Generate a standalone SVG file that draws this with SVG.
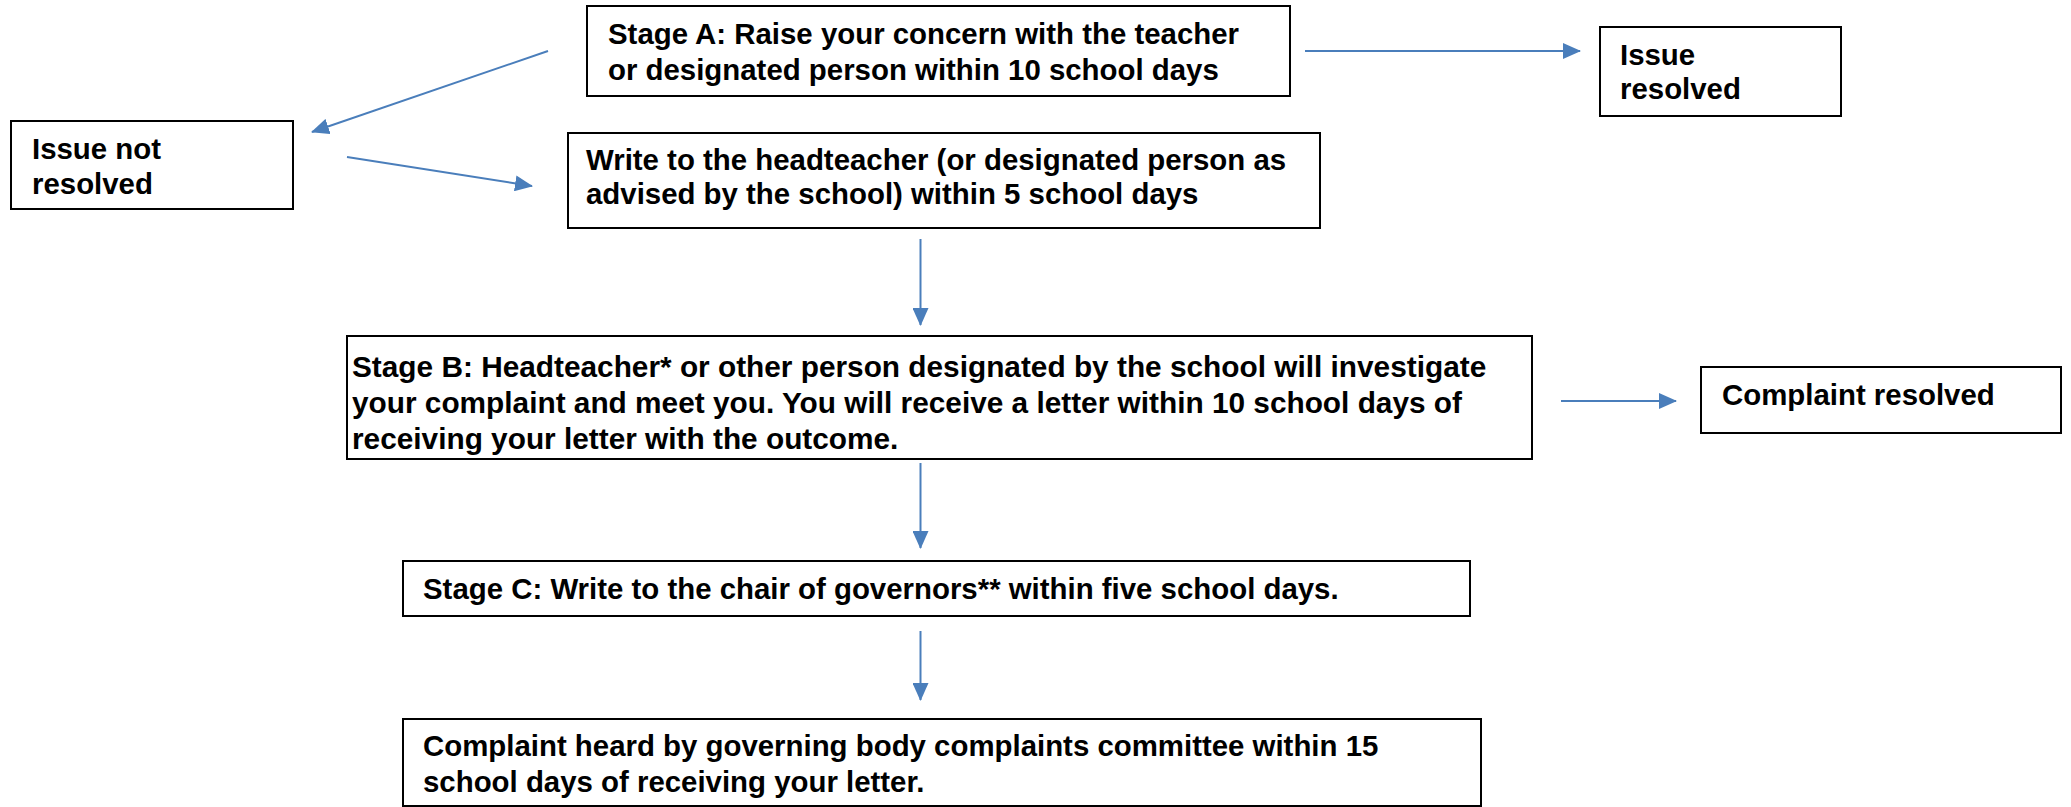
<svg xmlns="http://www.w3.org/2000/svg" width="2071" height="807" viewBox="0 0 2071 807">
<style>
.box{fill:#fff;stroke:#000;stroke-width:2}
.t{font-family:"Liberation Sans",Arial,sans-serif;font-weight:bold;font-size:29.4px;fill:#000}
.tb{font-size:29.8px}
.c{stroke:#4a7ebb;stroke-width:2;fill:none;marker-end:url(#ah)}
</style>
<defs>
<marker id="ah" markerWidth="9" markerHeight="8" refX="8.5" refY="4" orient="auto" markerUnits="strokeWidth">
<path d="M0,0 L9,4 L0,8 Z" fill="#4a7ebb"/>
</marker>
</defs>
<rect width="2071" height="807" fill="#fff"/>
<g id="connectors">
<line class="c" x1="1305" y1="51" x2="1580" y2="51"/>
<line class="c" x1="548" y1="51" x2="312" y2="132"/>
<line class="c" x1="347" y1="157" x2="532" y2="186"/>
<line class="c" x1="920.5" y1="239" x2="920.5" y2="325"/>
<line class="c" x1="1561" y1="401" x2="1676" y2="401"/>
<line class="c" x1="920.5" y1="463" x2="920.5" y2="548"/>
<line class="c" x1="920.5" y1="631" x2="920.5" y2="700"/>
</g>
<g id="stageA">
<rect class="box" x="587" y="6" width="703" height="90"/>
<text class="t" x="608" y="44">Stage A: Raise your concern with the teacher</text>
<text class="t" x="608" y="80">or designated person within 10 school days</text>
</g>
<g id="issueResolved">
<rect class="box" x="1600" y="27" width="241" height="89"/>
<text class="t" x="1620" y="65">Issue</text>
<text class="t" x="1620" y="99">resolved</text>
</g>
<g id="issueNotResolved">
<rect class="box" x="11" y="121" width="282" height="88"/>
<text class="t" x="32" y="159">Issue not</text>
<text class="t" x="32" y="194">resolved</text>
</g>
<g id="writeHead">
<rect class="box" x="568" y="133" width="752" height="95"/>
<text class="t" x="586" y="170">Write to the headteacher (or designated person as</text>
<text class="t" x="586" y="204">advised by the school) within 5 school days</text>
</g>
<g id="stageB">
<rect class="box" x="347" y="336" width="1185" height="123"/>
<text class="t tb" x="352" y="377">Stage B: Headteacher* or other person designated by the school will investigate</text>
<text class="t tb" x="352" y="413">your complaint and meet you. You will receive a letter within 10 school days of</text>
<text class="t tb" x="352" y="449">receiving your letter with the outcome.</text>
</g>
<g id="complaintResolved">
<rect class="box" x="1701" y="367" width="360" height="66"/>
<text class="t" x="1722" y="405">Complaint resolved</text>
</g>
<g id="stageC">
<rect class="box" x="403" y="561" width="1067" height="55"/>
<text class="t" x="423" y="599">Stage C: Write to the chair of governors** within five school days.</text>
</g>
<g id="committee">
<rect class="box" x="403" y="719" width="1078" height="87"/>
<text class="t" x="423" y="756">Complaint heard by governing body complaints committee within 15</text>
<text class="t" x="423" y="792">school days of receiving your letter.</text>
</g>
</svg>
